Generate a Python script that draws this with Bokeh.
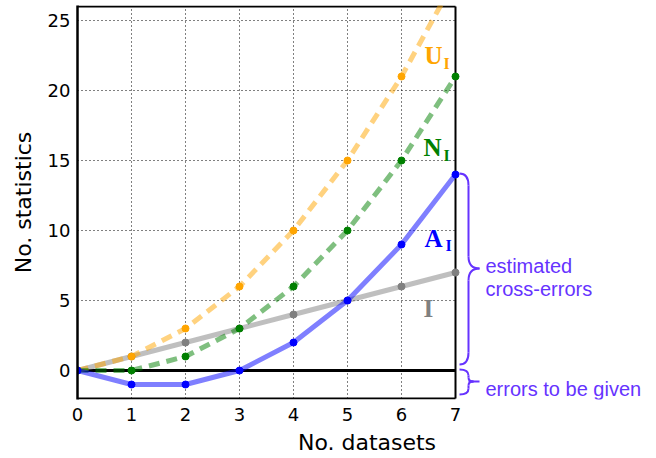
from bokeh.plotting import figure
from bokeh.models import Range1d, FixedTicker, Label
from bokeh.embed import file_html
from bokeh.resources import INLINE

# ---- data ----
n_datasets = [0, 1, 2, 3, 4, 5, 6, 7]
U_I = [0, 1, 3, 6, 10, 15, 21, 28]
N_I = [0, 0, 1, 3, 6, 10, 15, 21]
A_I = [0, -1, -1, 0, 2, 5, 9, 14]
I_vals = [0, 1, 2, 3, 4, 5, 6, 7]
x_ticks = [0, 1, 2, 3, 4, 5, 6, 7]
y_ticks = [0, 5, 10, 15, 20, 25]

# frame geometry (pixels) used to place annotations outside the data area
L, X0PX, UX = 77, 77, 54.0
Y0PX, UY = 370, 14.0


def X(px):
    return (px - X0PX) / UX


def Y(py):
    return (Y0PX - py) / UY


p = figure(width=656, height=458,
           x_range=Range1d(0, (656 - L) / UX),
           y_range=Range1d(-2 - 1 / UY, 26 + 1 / UY),
           output_backend="svg", toolbar_location=None,
           min_border_left=77, min_border_right=0,
           min_border_top=5, min_border_bottom=59)
p.outline_line_color = None
p.background_fill_color = "white"
p.border_fill_color = "white"
p.xgrid.visible = False
p.ygrid.visible = False

# axes
p.xaxis.ticker = FixedTicker(ticks=x_ticks)
p.yaxis.ticker = FixedTicker(ticks=y_ticks)
p.xaxis.axis_line_color = None
p.yaxis.axis_line_color = "black"
p.yaxis.axis_line_width = 2.5
for ax in (p.xaxis, p.yaxis):
    ax.major_tick_out = 0
    ax.major_tick_in = 0
    ax.minor_tick_out = 0
    ax.minor_tick_in = 0
    ax.major_label_text_font = "DejaVu Sans"
    ax.major_label_text_font_size = "18px"
    ax.major_label_text_color = "black"
    ax.axis_label_text_font = "DejaVu Sans"
    ax.axis_label_text_font_size = "22px"
    ax.axis_label_text_font_style = "normal"
    ax.axis_label_text_color = "black"
p.xaxis.axis_label = "No. datasets"
p.yaxis.axis_label = "No. statistics"
p.xaxis.major_label_standoff = 8
p.yaxis.major_label_standoff = 7
p.xaxis.axis_label_standoff = 6
p.yaxis.axis_label_standoff = 9

# dotted grid
gx = [t for t in x_ticks if 0 < t < 7]
p.segment(x0=gx, y0=[-2] * len(gx), x1=gx, y1=[26] * len(gx),
          line_color="black", line_width=1, line_dash="1 3")
gy = [t for t in y_ticks if t > 0]
p.segment(x0=[0] * len(gy), y0=gy, x1=[7] * len(gy), y1=gy,
          line_color="black", line_width=1, line_dash="1 3")

# frame borders (top, right, bottom)
p.segment(x0=[0, 7, 0], y0=[26, -2, -2], x1=[7, 7, 7], y1=[26, 26, -2],
          line_color="black", line_width=2)

# zero line
p.line([0, 7], [0, 0], line_color="black", line_width=3)

# series
p.line(n_datasets, I_vals, line_color="gray", line_alpha=0.5, line_width=5)
p.scatter(n_datasets, I_vals, size=7, color="gray")
p.line(n_datasets, U_I, line_color="orange", line_alpha=0.5, line_width=5, line_dash="11 7")
p.scatter(n_datasets, U_I, size=7, color="orange")
p.line(n_datasets, N_I, line_color="green", line_alpha=0.5, line_width=5, line_dash="11 7")
p.scatter(n_datasets, N_I, size=7, color="green")
p.line(n_datasets, A_I, line_color="blue", line_alpha=0.5, line_width=5)
p.scatter(n_datasets, A_I, size=7, color="blue")

# series labels
def series_label(px, py, spx, spy, main, color, sub=True):
    p.add_layout(Label(x=X(px), y=Y(py), text=main, text_font="Liberation Serif",
                       text_font_style="bold", text_font_size="25px",
                       text_color=color, text_baseline="alphabetic"))
    if sub:
        p.add_layout(Label(x=X(spx), y=Y(spy), text="I", text_font="Liberation Serif",
                           text_font_style="bold", text_font_size="16px",
                           text_color=color, text_baseline="alphabetic"))


series_label(424, 55, 443, 63, "U", "orange")
series_label(423, 147, 443, 155, "N", "green")
series_label(424, 238, 445, 245, "A", "blue")
series_label(423, 308, 0, 0, "I", "gray", sub=False)

# braces
BC = "#6633ff"
quads = [  # (x0, y0, x1, y1, cx, cy) in pixels
    (459, 173, 468, 185, 468, 173),
    (468, 256, 479, 268, 468, 268),
    (479, 268, 468, 280, 468, 268),
    (468, 352, 459, 364, 468, 364),
    (459, 369, 468, 375, 468, 369),
    (468, 377, 473, 381, 468, 381),
    (473, 381, 468, 385, 468, 381),
    (468, 388, 459, 394, 468, 394),
]
p.quadratic(x0=[X(q[0]) for q in quads], y0=[Y(q[1]) for q in quads],
            x1=[X(q[2]) for q in quads], y1=[Y(q[3]) for q in quads],
            cx=[X(q[4]) for q in quads], cy=[Y(q[5]) for q in quads],
            line_color=BC, line_width=2)
segs = [(468, 185, 468, 256), (468, 280, 468, 352),
        (468, 375, 468, 377), (468, 385, 468, 388), (468, 381, 479, 381)]
p.segment(x0=[X(s[0]) for s in segs], y0=[Y(s[1]) for s in segs],
          x1=[X(s[2]) for s in segs], y1=[Y(s[3]) for s in segs],
          line_color=BC, line_width=2)

for txt, py in (("estimated", 265), ("cross-errors", 288), ("errors to be given", 388)):
    p.add_layout(Label(x=X(485), y=Y(py), text=txt, text_font="Liberation Sans",
                       text_font_size="20px", text_color=BC, text_baseline="alphabetic"))

open("out.html", "w").write(file_html(p, INLINE))
